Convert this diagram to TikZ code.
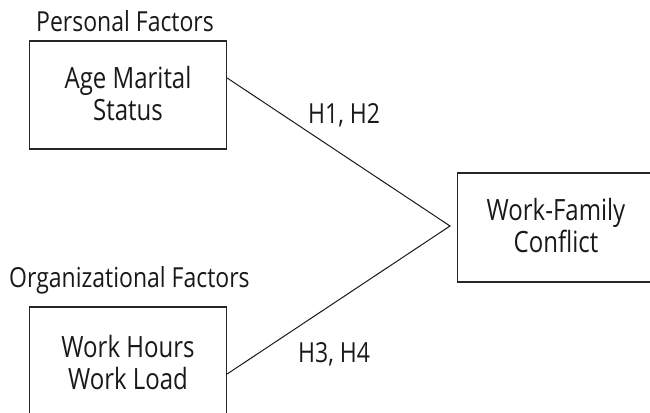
\documentclass[tikz,border=0pt]{standalone}
\usepackage{fontspec}
\setmainfont{Open Sans}
\newcommand{\stretchtxt}[1]{\scalebox{1}[1.2]{#1}}
\newcommand{\twolines}[3][3pt]{\raisebox{-#1}[\height][\depth]{\scalebox{1}[1.22]{\begin{tabular}{@{}c@{}}#2\\#3\end{tabular}}}}
\begin{document}
\begin{tikzpicture}[x=1pt,y=-1pt,
  box/.style={draw=black!85,line width=1.3pt,rectangle,inner sep=0pt,
    minimum width=197pt,minimum height=108pt,align=center,
    font=\fontsize{24}{26.3}\selectfont,text=black!90},
  lbl/.style={anchor=base west,inner sep=0pt,font=\fontsize{23}{28}\selectfont,text=black!90},
  link/.style={draw=black!90,line width=1pt}]
\useasboundingbox (0,0) rectangle (650,412);
\clip (0,0) rectangle (650,412);
\node[box] (b1) at (128,95) {\twolines{Age Marital}{Status}};
\node[box] (b2) at (128,361) {\twolines[6pt]{Work Hours}{Work Load}};
\node[box,minimum height=109pt] (b3) at (556,227.5) {\twolines{Work-Family}{Conflict}};
\node[lbl] (t1) at (36,32) {\stretchtxt{Personal Factors}};
\node[lbl] (t2) at (9,287) {\stretchtxt{Organizational Factors}};
\node[lbl] (h12) at (308,123) {\stretchtxt{H1, H2}};
\node[lbl] (h34) at (298,362) {\stretchtxt{H3, H4}};
\coordinate (tip) at (450,226);
\draw[link] ([yshift=17pt]b1.east) -- (tip) -- ([yshift=-13pt]b2.east);
\end{tikzpicture}
\end{document}
